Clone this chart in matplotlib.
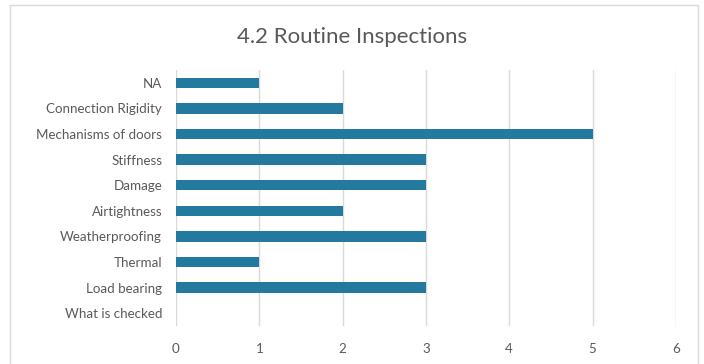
import matplotlib.pyplot as plt
from matplotlib.patches import Rectangle

# Routine inspection counts, listed top to bottom
categories = ['NA', 'Connection Rigidity', 'Mechanisms of doors', 'Stiffness',
              'Damage', 'Airtightness', 'Weatherproofing', 'Thermal',
              'Load bearing', 'What is checked']
counts = [1, 2, 5, 3, 3, 2, 3, 1, 3, 0]
x_ticks = [0, 1, 2, 3, 4, 5, 6]

plt.rcParams['font.family'] = ['Lato', 'DejaVu Sans']

fig = plt.figure(figsize=(7.04, 3.64), dpi=100)
ax = fig.add_axes([0.25, 0.1044, 0.71, 0.7033])

# chart frame
fig.patches.append(Rectangle((10 / 704, -0.02), 688 / 704, 1.02 - 5 / 364,
                             transform=fig.transFigure, fill=False,
                             edgecolor='#d9d9d9', linewidth=1.0))

pos = list(range(len(categories)))[::-1]
ax.barh(pos, counts, height=0.4, color='#23799e', zorder=3)

ax.set_xlim(0, 6)
ax.set_ylim(-0.5, len(categories) - 0.5)
ax.set_xticks(x_ticks)
ax.set_yticks(pos)
ax.set_yticklabels(categories)
ax.grid(axis='x', color='#d9d9d9', linewidth=1.0, zorder=0)
for s in ax.spines.values():
    s.set_visible(False)
ax.tick_params(length=0, colors='#595959', labelsize=9.6)
ax.tick_params(axis='x', pad=12)
ax.tick_params(axis='y', pad=10)

fig.text(0.5, 1 - 37 / 364, '4.2 Routine Inspections', ha='center', va='center',
         fontsize=16, color='#595959')

fig.savefig('out.png', dpi=100)
